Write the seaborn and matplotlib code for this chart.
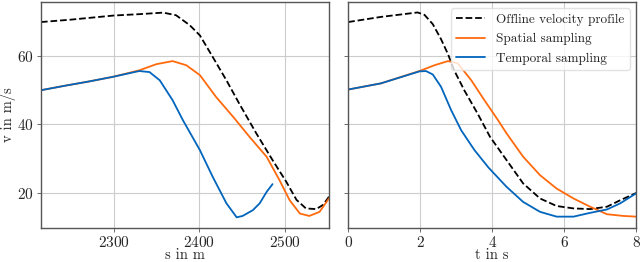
import pandas as pd
import matplotlib
matplotlib.use("Agg")
import matplotlib.pyplot as plt
import seaborn as sns

sns.set_style("whitegrid")
plt.rcParams['font.family'] = 'serif'
plt.rcParams['font.serif'] = ['cmr10', 'DejaVu Serif']
plt.rcParams['mathtext.fontset'] = 'cm'
plt.rcParams['axes.formatter.use_mathtext'] = True

# --- data ---
# velocity over distance
s_offline = [2215, 2250, 2300, 2330, 2358, 2373, 2389, 2401, 2416, 2432, 2447, 2467,
             2486, 2502, 2514, 2525, 2537, 2545, 2552]
v_offline = [69.9, 70.6, 71.8, 72.2, 72.65, 71.9, 69.0, 66.0, 59.7, 52.9, 46.1, 37.4,
             29.6, 23.3, 18.0, 15.5, 15.3, 16.5, 18.9]
s_spatial = [2215, 2245, 2270, 2299, 2330, 2350, 2369, 2385, 2401, 2420, 2440, 2459,
             2479, 2494, 2506, 2518, 2529, 2541, 2552]
v_spatial = [50.0, 51.4, 52.5, 53.9, 55.8, 57.6, 58.5, 57.3, 54.4, 48.0, 42.2, 36.4,
             30.6, 23.8, 17.9, 14.0, 13.3, 14.5, 18.4]
s_temporal = [2215, 2245, 2270, 2299, 2330, 2342, 2354, 2369, 2381, 2401, 2416, 2432,
              2444, 2451, 2463, 2471, 2479, 2486]
v_temporal = [50.0, 51.4, 52.5, 53.9, 55.6, 55.3, 52.9, 47.1, 41.3, 32.5, 24.7, 17.0,
              12.9, 13.3, 15.0, 17.0, 20.3, 22.6]

# velocity over time
t_offline = [0, 0.91, 1.93, 2.12, 2.35, 2.58, 2.77, 2.95, 3.23, 3.6, 3.94, 4.4,
             4.86, 5.33, 5.79, 6.26, 6.72, 7.19, 7.56, 8]
vt_offline = [69.9, 71.4, 72.7, 72.0, 69.3, 64.9, 60.6, 55.7, 49.9, 43.1, 36.4, 29.6,
              22.8, 18.4, 16.2, 15.5, 15.3, 16.0, 17.9, 20.0]
t_spatial = [0, 0.91, 1.98, 2.4, 2.77, 3.04, 3.42, 3.79, 4.16, 4.4, 4.86, 5.33,
             5.79, 6.26, 6.72, 7.19, 7.65, 8]
vt_spatial = [50.2, 52.0, 55.6, 57.3, 58.5, 57.9, 52.9, 47.0, 41.3, 37.4, 30.6, 25.2,
              21.3, 18.4, 16.0, 13.8, 13.3, 13.1]
t_temporal = [0, 0.91, 1.98, 2.16, 2.35, 2.58, 2.86, 3.14, 3.51, 3.9, 4.4, 4.86,
              5.33, 5.79, 6.26, 6.72, 7.19, 7.56, 8]
vt_temporal = [50.2, 52.0, 55.5, 55.6, 54.6, 51.0, 44.2, 38.3, 32.5, 27.4, 21.8, 17.4,
               14.5, 13.1, 13.1, 14.2, 15.2, 17.0, 19.9]

labels = ["Offline velocity profile", "Spatial sampling", "Temporal sampling"]
colors = ["black", "#FF6A0D", "#0065BD"]
styles = ["--", "-", "-"]

fig = plt.figure(figsize=(6.4, 2.62), dpi=100)
ax1 = fig.add_axes([0.064, 0.130, 0.450, 0.863])
ax2 = fig.add_axes([0.544, 0.130, 0.450, 0.863], sharey=ax1)

left = [(s_offline, v_offline), (s_spatial, v_spatial), (s_temporal, v_temporal)]
right = [(t_offline, vt_offline), (t_spatial, vt_spatial), (t_temporal, vt_temporal)]

for (x, y), lab, c, ls in zip(left, labels, colors, styles):
    sns.lineplot(x=x, y=y, ax=ax1, color=c, linestyle=ls, lw=1.3, label=lab, legend=False)
for (x, y), lab, c, ls in zip(right, labels, colors, styles):
    sns.lineplot(x=x, y=y, ax=ax2, color=c, linestyle=ls, lw=1.3, label=lab, legend=False)

ax1.set_xlim(2215, 2552)
ax1.set_ylim(9.8, 75.8)
ax1.set_xticks([2300, 2400, 2500])
ax1.set_yticks([20, 40, 60])
ax2.set_xlim(0, 8)
ax2.set_xticks([0, 2, 4, 6, 8])

ax1.set_xlabel("s in m", fontsize=10.5, labelpad=-1)
ax1.set_ylabel("v in m/s", fontsize=10.5, labelpad=1)
ax2.set_xlabel("t in s", fontsize=10.5, labelpad=-1)
ax2.tick_params(labelleft=False)

for ax in (ax1, ax2):
    ax.grid(True, color="#cccccc", lw=0.8)
    ax.tick_params(labelsize=11, length=3, width=0.6, color="#555555", pad=2,
                   bottom=True, left=True)
    for sp in ax.spines.values():
        sp.set_color("#555555")
        sp.set_linewidth(1.0)

ax2.legend(loc="upper right", fontsize=9.5, frameon=True, framealpha=0.8,
           edgecolor="#dddddd", borderpad=0.4, handlelength=2.2, labelspacing=0.55)

fig.savefig("out.png", dpi=100)
